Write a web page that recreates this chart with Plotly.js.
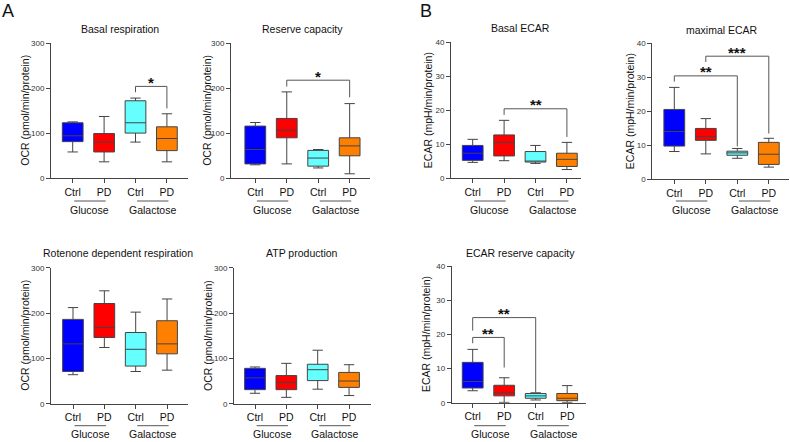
<!DOCTYPE html>
<html><head><meta charset="utf-8">
<script src="https://cdn.plot.ly/plotly-3.0.1.min.js"></script>
<style>html,body{margin:0;padding:0;background:#fff}#chart{width:790px;height:442px}</style>
</head><body><div id="chart"></div>
<script>
const categories = ['Ctrl', 'PD', 'Ctrl', 'PD'];
const groups = ['Glucose', 'Galactose'];
const boxColors = ['#0000FF', '#FF0000', '#66FFFF', '#FF8000'];
const panelTitles = ['Basal respiration', 'Reserve capacity', 'Basal ECAR', 'maximal ECAR',
  'Rotenone dependent respiration', 'ATP production', 'ECAR reserve capacity'];
const ocrTicks = [0, 100, 200, 300];
const ecarTicks = [0, 10, 20, 30, 40];
// each row: [lower whisker, Q1, median, Q3, upper whisker] for Ctrl/PD Glucose, Ctrl/PD Galactose
const basalRespiration = [[58, 81, 94, 123, 125], [36, 58, 80, 99, 137], [80, 100, 123, 172, 178], [36, 61, 88, 114, 143]];
const reserveCapacity = [[30, 32, 64, 116, 124], [32, 90, 107, 133, 192], [23, 27, 45, 62, 64], [10, 50, 72, 90, 166]];
const basalECAR = [[4.6, 5.2, 7.3, 9.6, 11.4], [5.1, 6.5, 10.5, 12.7, 17], [4.3, 4.7, 4.9, 7.8, 9.6], [2.5, 3.4, 5.5, 7.3, 10.5]];
const maximalECAR = [[8.1, 9.7, 14, 20.5, 27], [7.4, 11.4, 12.5, 14.9, 17.8], [6.1, 7.0, 7.7, 8.2, 9.0], [3.5, 4.3, 7.3, 10.8, 12]];
const rotenoneRespiration = [[64, 71, 132, 186, 212], [124, 146, 168, 221, 249], [71, 83, 120, 157, 202], [74, 110, 132, 183, 231]];
const atpProduction = [[23, 31, 57, 78, 81], [14, 31, 47, 62, 89], [32, 51, 75, 87, 118], [18, 36, 50, 69, 86]];
const ecarReserve = [[3.5, 4.3, 6.2, 11.8, 15.6], [0.1, 2.0, 2.9, 5.1, 7.3], [0.8, 1.3, 2.0, 2.7, 2.9], [0.1, 0.6, 1.3, 2.7, 5.0]];
// significance: [from, to, bar level, left leg end, right leg end, label]
const basalRespirationSig = [[2, 3, 204, 191, 155, '*']];
const reserveCapacitySig = [[1, 3, 218, 204, 180, '*']];
const basalECARSig = [[1, 3, 20.4, 18.6, 12.1, '**']];
const maximalECARSig = [[0, 2, 30.4, 28.7, 9.6, '**'], [1, 3, 36.2, 34.5, 13.4, '***']];
const rotenoneSig = [];
const atpSig = [];
const ecarReserveSig = [[0, 1, 19.1, 17.4, 10.3, '**'], [0, 2, 24.9, 21.1, 3.1, '**']];

const W = 790, H = 442;
const FONT = 'Liberation Sans, Arial, sans-serif';
const AX = '#444';
// pixel geometry of each panel
const panels = [
  {data: basalRespiration, sig: basalRespirationSig, ymax: 300, ticks: ocrTicks, yt: 'OCR (pmol/min/protein)', axL: 51, axR: 188, y0: 178, yT: 43.3, c0: 72.7, sp: 31.4, tx: 120, ty: 29.3, ytx: 25, row: 0},
  {data: reserveCapacity, sig: reserveCapacitySig, ymax: 300, ticks: ocrTicks, yt: 'OCR (pmol/min/protein)', axL: 231, axR: 370, y0: 178.3, yT: 43.3, c0: 255.3, sp: 31.45, tx: 302.7, ty: 29.3, ytx: 207, row: 0},
  {data: basalECAR, sig: basalECARSig, ymax: 40, ticks: ecarTicks, yt: 'ECAR (mpH/min/protein)', axL: 451, axR: 581, y0: 178, yT: 42.3, c0: 472.7, sp: 31.4, tx: 520, ty: 28.5, ytx: 428, row: 0},
  {data: maximalECAR, sig: maximalECARSig, ymax: 40, ticks: ecarTicks, yt: 'ECAR (mpH/min/protein)', axL: 652.3, axR: 789, y0: 179, yT: 43.3, c0: 674.3, sp: 31.5, tx: 721.7, ty: 30, ytx: 630, row: 0},
  {data: rotenoneRespiration, sig: rotenoneSig, ymax: 300, ticks: ocrTicks, yt: 'OCR (pmol/min/protein)', axL: 51, axR: 188, y0: 403.7, yT: 267.7, c0: 73, sp: 31.35, tx: 118, ty: 253.3, ytx: 25, row: 1},
  {data: atpProduction, sig: atpSig, ymax: 300, ticks: ocrTicks, yt: 'OCR (pmol/min/protein)', axL: 234, axR: 371, y0: 403.7, yT: 267.7, c0: 255, sp: 31.35, tx: 301.7, ty: 252.7, ytx: 207.3, row: 1},
  {data: ecarReserve, sig: ecarReserveSig, ymax: 40, ticks: ecarTicks, yt: 'ECAR (mpH/min/protein)', axL: 451.7, axR: 586, y0: 402.7, yT: 266, c0: 472.7, sp: 31.5, tx: 520, ty: 252.7, ytx: 426.7, row: 1}
];
panels.forEach((p, i) => p.title = panelTitles[i]);

const px = v => v / W;
const py = v => 1 - v / H;
const traces = [];
const layout = {
  width: W, height: H, margin: {l: 0, r: 0, t: 0, b: 0},
  paper_bgcolor: '#fff', plot_bgcolor: 'rgba(0,0,0,0)',
  showlegend: false, boxmode: 'overlay',
  font: {family: FONT, color: '#111'},
  annotations: [], shapes: []
};
const rowLabelY = [{under: 201, group: 210}, {under: 425.7, group: 434}];

panels.forEach((p, i) => {
  const k = i + 1;
  const xa = 'x' + (k === 1 ? '' : k), ya = 'y' + (k === 1 ? '' : k);
  layout['xaxis' + (k === 1 ? '' : k)] = {
    domain: [px(p.axL), px(p.axR)],
    range: [(p.axL - p.c0) / p.sp, (p.axR - p.c0) / p.sp],
    anchor: ya, tickvals: [0, 1, 2, 3], ticktext: categories,
    ticks: 'outside', ticklen: 4, tickcolor: AX, tickwidth: 1,
    showline: true, linecolor: AX, linewidth: 1, showgrid: false, zeroline: false,
    tickfont: {family: FONT, size: 10.5, color: '#111'}, fixedrange: true
  };
  layout['yaxis' + (k === 1 ? '' : k)] = {
    domain: [py(p.y0), py(p.yT)], range: [0, p.ymax], anchor: xa,
    tickvals: p.ticks, ticks: 'outside', ticklen: 4, tickcolor: AX, tickwidth: 1,
    showline: true, linecolor: AX, linewidth: 1, showgrid: false, zeroline: false,
    tickfont: {family: FONT, size: 8, color: '#333'}, fixedrange: true
  };
  p.data.forEach((d, j) => {
    traces.push({
      type: 'box', xaxis: xa, yaxis: ya, x: [j],
      lowerfence: [d[0]], q1: [d[1]], median: [d[2]], q3: [d[3]], upperfence: [d[4]],
      width: 0.66, whiskerwidth: 0.5, fillcolor: boxColors[j],
      line: {color: AX, width: 1}, boxpoints: false, hoverinfo: 'skip', showlegend: false
    });
  });
  // panel title
  layout.annotations.push({text: p.title, xref: 'paper', yref: 'paper', x: px(p.tx), y: py(p.ty),
    xanchor: 'center', yanchor: 'middle', showarrow: false, font: {family: FONT, size: 10.5, color: '#111'}});
  // y title
  layout.annotations.push({text: p.yt, xref: 'paper', yref: 'paper', x: px(p.ytx), y: py((p.y0 + p.yT) / 2),
    xanchor: 'center', yanchor: 'middle', textangle: -90, showarrow: false, font: {family: FONT, size: 10.5, color: '#111'}});
  // group labels and underlines
  const r = rowLabelY[p.row];
  groups.forEach((g, gi) => {
    const a = gi * 2;
    layout.shapes.push({type: 'line', xref: xa, yref: 'paper', x0: a + 0.05, x1: a + 1.05,
      y0: py(r.under), y1: py(r.under), line: {color: '#555', width: 1}});
    layout.annotations.push({text: g, xref: xa, yref: 'paper', x: a + 0.55, y: py(r.group),
      xanchor: 'center', yanchor: 'middle', showarrow: false, font: {family: FONT, size: 10.5, color: '#111'}});
  });
  // significance brackets
  p.sig.forEach(s => {
    const [a, b, lvl, lEnd, rEnd, lab] = s;
    layout.shapes.push({type: 'path', xref: xa, yref: ya,
      path: `M ${a},${lEnd} L ${a},${lvl} L ${b},${lvl} L ${b},${rEnd}`,
      line: {color: '#555', width: 1}});
    layout.annotations.push({text: lab, xref: xa, yref: ya, x: (a + b) / 2, y: lvl,
      xanchor: 'center', yanchor: 'middle', yshift: 4, showarrow: false,
      font: {family: FONT, size: 15, color: '#111', weight: 'bold'}});
  });
});
layout.annotations.push({text: 'A', xref: 'paper', yref: 'paper', x: px(8), y: py(11), xanchor: 'center', yanchor: 'middle', showarrow: false, font: {family: FONT, size: 18, color: '#111'}});
layout.annotations.push({text: 'B', xref: 'paper', yref: 'paper', x: px(426), y: py(11), xanchor: 'center', yanchor: 'middle', showarrow: false, font: {family: FONT, size: 18, color: '#111'}});

Plotly.newPlot('chart', traces, layout, {displayModeBar: false, staticPlot: true});
</script></body></html>
